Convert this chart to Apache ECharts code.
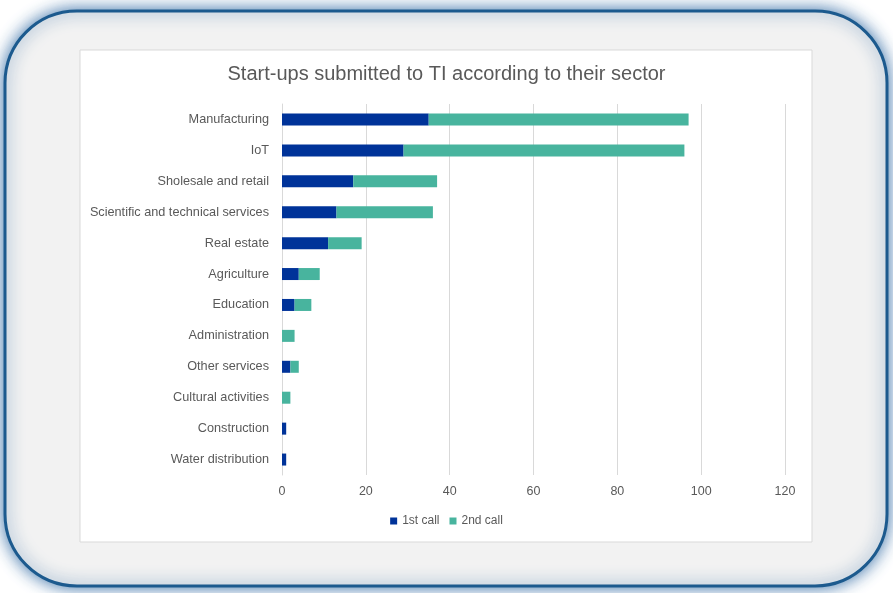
<!DOCTYPE html>
<html><head><meta charset="utf-8">
<script src="https://cdn.jsdelivr.net/npm/echarts@6/dist/echarts.min.js"></script>
<style>html,body{margin:0;padding:0;background:#fff;}#c{width:893px;height:593px;}</style>
</head><body><div id="c"></div>
<script>
const categories = ["Manufacturing","IoT","Sholesale and retail","Scientific and technical services","Real estate","Agriculture","Education","Administration","Other services","Cultural activities","Construction","Water distribution"];
const firstCall = [35,29,17,13,11,4,3,0,2,0,1,1];
const secondCall = [62,67,20,23,8,5,4,3,2,2,0,0];
const xTicks = [0,20,40,60,80,100,120];

const chart = echarts.init(document.getElementById('c'));
const font = 'Liberation Sans, Arial, sans-serif';
chart.setOption({
  animation:false,
  backgroundColor:'#ffffff',
  graphic:[
    {type:'rect', z:-10, shape:{x:5,y:11,width:882,height:575,r:72},
     style:{fill:'#f2f2f2', stroke:'#1c5a8e', lineWidth:3, shadowBlur:16, shadowColor:'rgba(40,100,160,0.9)'}},
    {type:'rect', z:-9, shape:{x:80,y:50,width:732,height:492},
     style:{fill:'#ffffff', stroke:'#d9d9d9', lineWidth:1}}
  ],
  title:{text:'Start-ups submitted to TI according to their sector', left:'center', top:59,
    textStyle:{fontFamily:font, fontSize:20, fontWeight:'normal', color:'#595959'}},
  legend:{bottom:61, left:'center', itemWidth:7, itemHeight:7, itemGap:10, icon:'rect',
    textStyle:{fontFamily:font, fontSize:12, color:'#595959'}, data:['1st call','2nd call']},
  grid:{left:282, right:108, top:104, height:371, containLabel:false},
  xAxis:{type:'value', min:0, max:120, interval:20,
    axisLine:{show:false}, axisTick:{show:false},
    splitLine:{lineStyle:{color:'#d9d9d9'}},
    axisLabel:{fontFamily:font, fontSize:12.5, color:'#595959', margin:10,
      formatter:v=>xTicks.includes(v)?String(v):''}},
  yAxis:{type:'category', data:categories, inverse:true,
    axisLine:{lineStyle:{color:'#d9d9d9'}}, axisTick:{show:false},
    axisLabel:{fontFamily:font, fontSize:12.7, color:'#595959', margin:13}},
  series:[
    {name:'1st call', type:'bar', stack:'a', data:firstCall, barWidth:12, itemStyle:{color:'#003399'}},
    {name:'2nd call', type:'bar', stack:'a', data:secondCall, barWidth:12, itemStyle:{color:'#48b49e'}}
  ]
});
</script></body></html>
